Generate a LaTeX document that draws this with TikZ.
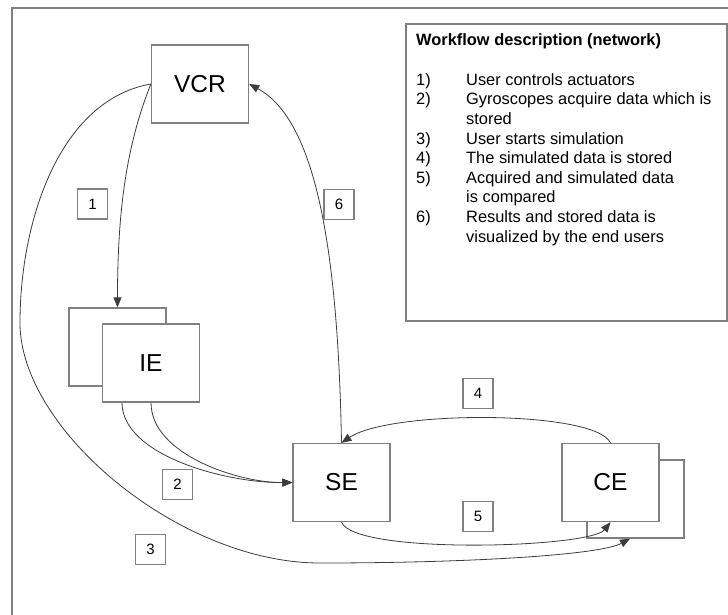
\documentclass[tikz,border=0pt]{standalone}
\usepackage{fontspec}
\setmainfont{Liberation Sans}
\usetikzlibrary{arrows.meta,calc}
\definecolor{boxgray}{RGB}{128,128,128}
\definecolor{linegray}{RGB}{60,60,60}
\begin{document}
\begin{tikzpicture}[x=1pt,y=-1pt,
  block/.style={draw=boxgray,line width=1.3pt,fill=white,minimum width=97pt,
    minimum height=78pt,inner sep=0pt,font=\fontsize{24.5}{29}\selectfont},
  tag/.style={draw=boxgray,line width=1.2pt,fill=white,minimum size=30pt,
    inner sep=0pt,font=\fontsize{15}{18}\selectfont},
  flow/.style={draw=linegray,line width=0.8pt,-{Triangle[length=10pt,width=8pt]}},
  frame/.style={draw=boxgray,line width=1.5pt}]
\useasboundingbox (0,0) rectangle (728,614);
% outer frame (only its left and top edges fall inside the page)
\draw[frame] (12,640) -- (12,8) -- (740,8);

% main blocks (back copies first, so the front ones cover them)
\node[block] (IEb) at (117.5,347) {};
\node[block] (IE)  at (151,363) {IE};
\node[block] (VCR) at (200,84) {VCR};
\node[block] (CEb) at (635.5,499) {};
\node[block] (CE)  at (610.5,482.5) {CE};
\node[block] (SE)  at (341.5,482.5) {SE};

% description panel
\node[draw=boxgray,line width=1.3pt,minimum width=321pt,minimum height=297pt,
  inner sep=0pt] (info) at (566.5,172.5) {};
\node[anchor=base west,inner sep=0pt,font=\bfseries\fontsize{16.4}{19.6}\selectfont]
  (title) at (416,45) {Workflow description (network)};
\node[anchor=north west,inner sep=0pt,font=\fontsize{16.4}{19.6}\selectfont]
  (steps) at (416,71.3) {%
  \begin{tabular}{@{}p{50pt}@{}l@{}}
  1) & User controls actuators\\
  2) & Gyroscopes acquire data which is\\
     & stored\\
  3) & User starts simulation\\
  4) & The simulated data is stored\\
  5) & Acquired and simulated data\\
     & is compared\\
  6) & Results and stored data is\\
     & visualized by the end users
  \end{tabular}};

% connectors
\coordinate (ieleft) at ($(IE.south)+(-29,0)$);
\coordinate (ceback) at ($(CEb.south)+(-5.5,0)$);
\draw[flow] (VCR.west) .. controls (127,144) and (117.5,208) .. (IEb.north);
\draw[flow] (VCR.west) .. controls (60,100) and (20,220) .. (20,323)
  .. controls (20,430) and (180,563) .. (320,563)
  .. controls (470,563) and (600,555) .. (ceback);
\draw[flow] (ieleft) .. controls (122,455) and (225,483) .. (SE.west);
\draw[flow] (IE.south) .. controls (151,455) and (240,483) .. (SE.west);
\draw[flow] (SE.north) .. controls (338,250) and (316,120) .. (VCR.east);
\draw[flow] (CE.north) .. controls (595,410) and (390,410) .. (SE.north);
\draw[flow] (SE.south) .. controls (355,555) and (590,548) .. (CE.south);

% step tags
\node[tag] (t1) at (92.5,204) {1};
\node[tag] (t6) at (339,204.5) {6};
\node[tag] (t2) at (177.5,484.5) {2};
\node[tag] (t3) at (150.5,549.5) {3};
\node[tag] (t4) at (478,393.5) {4};
\node[tag] (t5) at (478,516.5) {5};
\end{tikzpicture}
\end{document}
